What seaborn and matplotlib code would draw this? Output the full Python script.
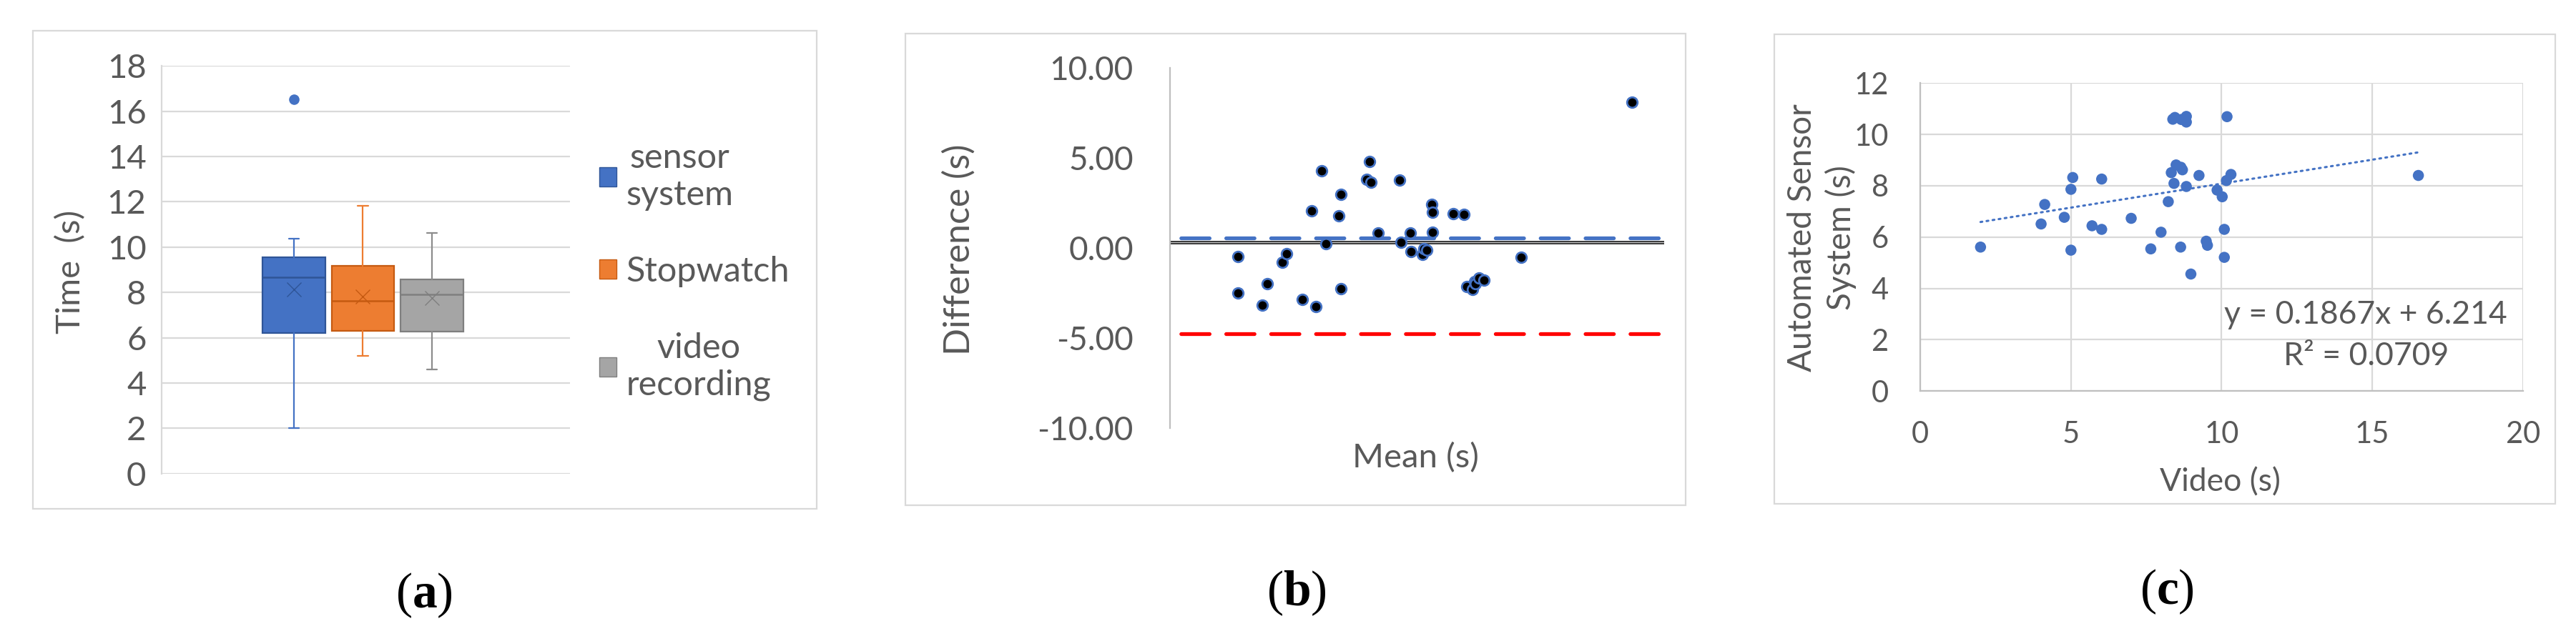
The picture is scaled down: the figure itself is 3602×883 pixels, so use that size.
import numpy as np
import pandas as pd
import matplotlib
matplotlib.use("Agg")
import matplotlib.pyplot as plt
from matplotlib.patches import Patch, Rectangle
from matplotlib.ticker import FormatStrFormatter
import seaborn as sns

# ---------------- data ----------------
# (a) box plot summaries
box_labels = ["sensor\nsystem", "Stopwatch", "video\nrecording"]
box_q1 = [6.20, 6.30, 6.28]
box_median = [8.67, 7.61, 7.90]
box_q3 = [9.54, 9.17, 8.57]
box_mean = [8.13, 7.80, 7.75]
box_whislo = [2.00, 5.19, 4.58]
box_whishi = [10.36, 11.81, 10.62]
box_fliers = [[16.52], [], []]

# (b) Bland-Altman
ba_mean = [1.93, 1.93, 2.62, 2.76, 3.20, 3.32, 3.76, 4.02, 4.15, 4.30, 4.43, 4.79,
           4.85, 4.85, 5.58, 5.67, 5.70, 5.90, 6.51, 6.55, 6.81, 6.84, 7.17, 7.21,
           7.28, 7.43, 7.45, 7.45, 8.04, 8.33, 8.41, 8.58, 8.63, 8.66, 8.77, 8.90,
           9.95, 13.09]
ba_diff = [-0.50, -2.51, -3.17, -2.00, -0.79, -0.32, -2.86, 2.07, -3.26, 4.29, 0.23, 1.78,
           2.98, -2.28, 3.79, 4.78, 3.62, 0.82, 3.74, 0.30, 0.82, -0.22, -0.36, -0.03,
           -0.13, 2.42, 1.97, 0.87, 1.89, 1.85, -2.16, -2.31, -1.87, -1.98, -1.69, -1.81,
           -0.53, 8.08]
ba_bias = 0.30
ba_upper = 0.55
ba_lower = -4.76
ba_yticks = [-10, -5, 0, 5, 10]

# (c) video vs automated sensor system
video = [2.00, 4.01, 4.13, 4.78, 5.00, 5.06, 5.00, 5.70, 6.02, 6.02, 7.00, 7.65,
         7.99, 8.23, 8.33, 8.42, 8.38, 8.45, 8.49, 8.65, 8.64, 8.66, 8.83, 8.83,
         8.83, 8.98, 9.25, 9.49, 9.53, 9.85, 10.02, 10.09, 10.09, 10.16, 10.18, 10.31,
         16.53, 8.70]
sensor = [5.61, 6.51, 7.27, 6.77, 7.86, 8.32, 5.49, 6.44, 6.30, 8.26, 6.73, 5.54,
          6.19, 7.38, 8.51, 8.09, 10.59, 10.66, 8.81, 8.72, 5.61, 10.58, 10.70, 10.48,
          7.97, 4.56, 8.40, 5.84, 5.68, 7.83, 7.57, 6.30, 5.21, 8.20, 10.69, 8.44,
          8.40, 8.62]
trend_slope = 0.1867
trend_intercept = 6.214
trend_r2 = 0.0709

# ---------------- style ----------------
sns.set_theme(style="white")
plt.rcParams["font.family"] = ["Lato", "DejaVu Sans"]
plt.rcParams["axes.unicode_minus"] = False
plt.rcParams["mathtext.fontset"] = "custom"
plt.rcParams["mathtext.rm"] = "Liberation Serif"
plt.rcParams["mathtext.bf"] = "Liberation Serif:bold"

W, H = 3602, 883
TXT = "#595959"
GRID = "#D9D9D9"
BLUE = "#4472C4"

fig = plt.figure(figsize=(W / 100, H / 100), dpi=100)


def rect(l, t, r, b):
    return [l / W, 1 - b / H, (r - l) / W, (b - t) / H]


# chart-area frames
for (l, t, r, b) in [(46, 43, 1142, 712), (1266, 47, 2357, 707), (2481, 48, 3573, 705)]:
    fig.add_artist(Rectangle((l / W, 1 - b / H), (r - l) / W, (b - t) / H,
                             transform=fig.transFigure, fill=False,
                             ec=GRID, lw=1.6))

# ---------------- (a) ----------------
ax = fig.add_axes(rect(226, 92.3, 797, 662.6))
stats = []
for i in range(3):
    stats.append(dict(label=box_labels[i], q1=box_q1[i], med=box_median[i],
                      q3=box_q3[i], mean=box_mean[i], whislo=box_whislo[i],
                      whishi=box_whishi[i], fliers=box_fliers[i]))
face = [BLUE, "#ED7D31", "#A5A5A5"]
edge = ["#2F5597", "#C55A11", "#7F7F7F"]
whis = [BLUE, "#ED7D31", "#8C8C8C"]
bp = ax.bxp(stats, positions=[0, 1, 2], widths=0.91, patch_artist=True,
            showmeans=True, capwidths=0.155, zorder=3)
for i in range(3):
    bp["boxes"][i].set(facecolor=face[i], edgecolor=edge[i], linewidth=1.6)
    bp["medians"][i].set(color=edge[i], linewidth=1.8)
    for k in (2 * i, 2 * i + 1):
        bp["whiskers"][k].set(color=whis[i], linewidth=1.6)
        bp["caps"][k].set(color=whis[i], linewidth=1.6)
    bp["means"][i].set(marker="x", markersize=14, markeredgecolor=edge[i],
                       markeredgewidth=1.0, markerfacecolor="none")
    bp["fliers"][i].set(marker="o", markersize=9.5, markerfacecolor=face[i],
                        markeredgecolor=face[i])
ax.set_xlim(-1.917, 4.0)
ax.set_ylim(0, 18)
ax.set_yticks(np.arange(0, 19, 2))
ax.set_xticks([])
ax.grid(axis="y", color=GRID, lw=1.6)
ax.set_axisbelow(True)
for s in ("top", "right", "bottom"):
    ax.spines[s].set_visible(False)
ax.spines["left"].set_color(GRID)
ax.spines["left"].set_linewidth(1.6)
ax.tick_params(axis="y", length=0, pad=15.5, labelsize=34, labelcolor=TXT)
ax.set_ylabel("Time  (s)", fontsize=34, color=TXT)
ax.yaxis.set_label_coords(-0.2224, 0.4955)
ax.yaxis.label.set_verticalalignment("center")
handles = [Patch(facecolor=face[i], edgecolor=edge[i], linewidth=1.0) for i in range(3)]
leg = ax.legend(handles, box_labels, loc="center left",
                bbox_to_anchor=(1.0718, 0.4955), frameon=False, fontsize=35,
                handlelength=0.49, handleheight=0.49, handletextpad=0.28,
                labelspacing=1.3, borderpad=0, borderaxespad=0)
for t in leg.get_texts():
    t.set_color(TXT)
    t.set_multialignment("center")

# ---------------- (b) ----------------
ax = fig.add_axes(rect(1635.5, 94.5, 2326.7, 599))
ax.set_xlim(0, 14)
ax.set_ylim(-10, 10)
lw_dash = 3.8
ax.axhline(ba_bias, color="#3A3A3A", lw=3.6, zorder=2)
ax.axhline(ba_bias, color="#C8C8C8", lw=0.8, zorder=2.1)
ax.axhline(ba_upper, color=BLUE, lw=lw_dash, ls=(9.0, (7.5, 4.4)),
           dash_capstyle="round", zorder=2.2)
ax.axhline(ba_lower, color="#FF0000", lw=lw_dash, ls=(9.0, (7.5, 4.4)),
           dash_capstyle="round", zorder=2.2)
df_b = pd.DataFrame({"mean": ba_mean, "diff": ba_diff})
sns.scatterplot(data=df_b, x="mean", y="diff", ax=ax, s=110, color="black",
                edgecolor=BLUE, linewidth=2.0, zorder=5, legend=False)
ax.set_yticks(ba_yticks)
ax.yaxis.set_major_formatter(FormatStrFormatter("%.2f"))
ax.set_xticks([])
for s in ("top", "right", "bottom"):
    ax.spines[s].set_visible(False)
ax.spines["left"].set_color("#BFBFBF")
ax.spines["left"].set_linewidth(1.6)
ax.tick_params(axis="y", length=0, pad=36.5, labelsize=33, labelcolor=TXT)
ax.set_xlabel("Mean (s)", fontsize=34, color=TXT)
ax.set_ylabel("Difference (s)", fontsize=36, color=TXT)
ax.yaxis.set_label_coords(-0.4261, 0.495)
ax.yaxis.label.set_verticalalignment("center")
ax.xaxis.set_label_coords(0.497, -0.0822)
ax.xaxis.label.set_verticalalignment("center")

# ---------------- (c) ----------------
ax = fig.add_axes(rect(2685.1, 116.2, 3527.8, 547.3))
ax.set_xlim(0, 20)
ax.set_ylim(0, 12)
ax.set_xticks([0, 5, 10, 15, 20])
ax.set_yticks(np.arange(0, 13, 2))
ax.grid(True, color=GRID, lw=1.6)
ax.set_axisbelow(True)
df_c = pd.DataFrame({"video": video, "sensor": sensor})
sns.scatterplot(data=df_c, x="video", y="sensor", ax=ax, s=125, color=BLUE,
                edgecolor="none", zorder=4, legend=False)
tx = np.array([min(video), max(video)])
sns.lineplot(x=tx, y=trend_slope * tx + trend_intercept, ax=ax, color=BLUE,
             lw=2.2, ls=(0, (0.8, 2.0)), dash_capstyle="round", zorder=3)
for s in ("top", "right"):
    ax.spines[s].set_visible(False)
for s in ("left", "bottom"):
    ax.spines[s].set_color("#BFBFBF")
    ax.spines[s].set_linewidth(1.6)
ax.tick_params(axis="both", length=0, labelsize=30, labelcolor=TXT)
ax.tick_params(axis="y", pad=32)
ax.tick_params(axis="x", pad=30)
ax.text(14.79, 2.96, f"y = {trend_slope}x + {trend_intercept}", fontsize=32,
        color=TXT, ha="center", va="center")
ax.text(14.79, 1.37, f"R\u00b2 = {trend_r2}", fontsize=32, color=TXT,
        ha="center", va="center")
ax.set_xlabel("Video (s)", fontsize=32, color=TXT)
ax.xaxis.set_label_coords(0.4971, -0.2962)
ax.xaxis.label.set_verticalalignment("center")
ax.set_ylabel("Automated Sensor\nSystem (s)", fontsize=33, color=TXT, linespacing=1.3)
ax.yaxis.set_label_coords(-0.1635, 0.4985)
ax.yaxis.label.set_verticalalignment("center")

# ---------------- panel letters ----------------
for letter, xc, yc in [("a", 593, 833), ("b", 1813, 830), ("c", 3030, 828)]:
    fig.text(xc / W, 1 - yc / H, "(" + r"$\mathbf{" + letter + "}$" + ")",
             fontsize=50, family="Liberation Serif", color="black",
             ha="center", va="center")

fig.savefig("out.png", dpi=100)
